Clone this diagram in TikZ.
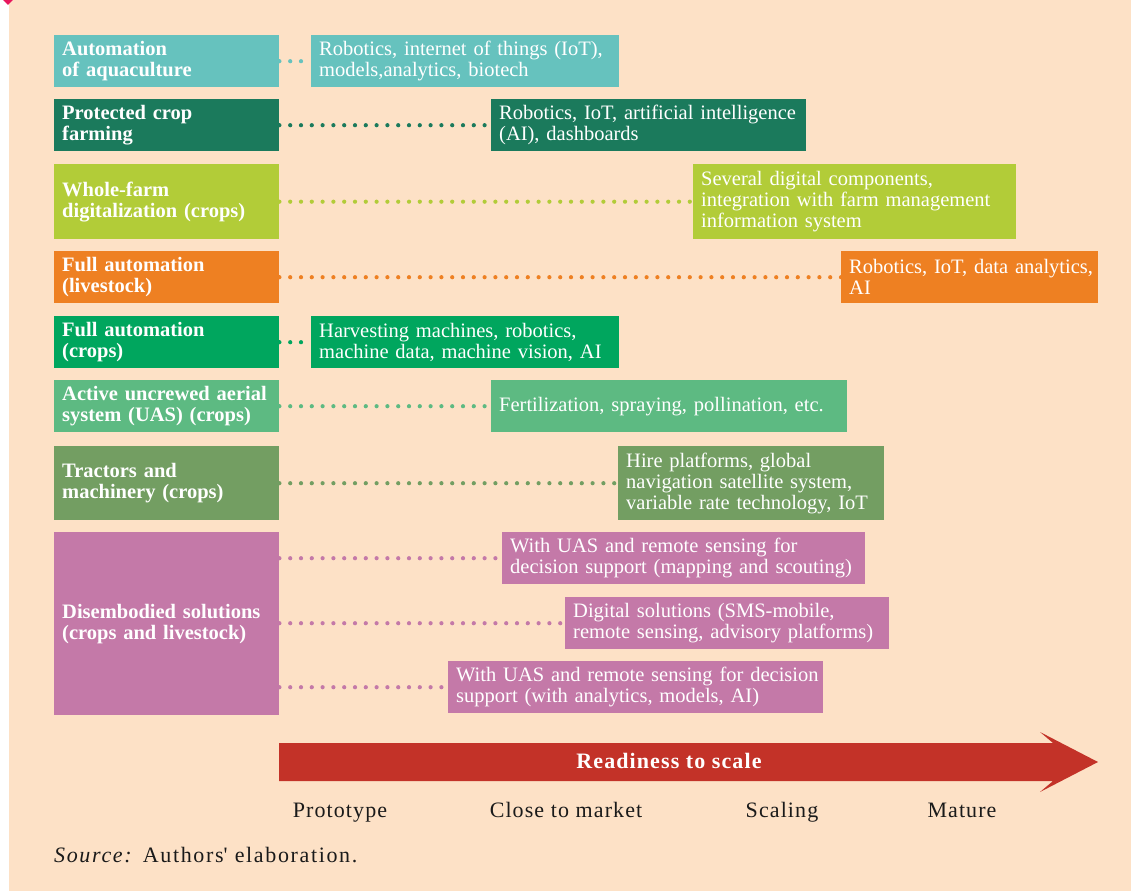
\documentclass[tikz,border=0pt]{standalone}
\usepackage{fontspec}
\setmainfont{Liberation Serif}
\newfontfamily\spacedfont[LetterSpace=5]{Liberation Serif}
\newfontfamily\sourcefont[LetterSpace=7.5]{Liberation Serif}
\definecolor{panel}{HTML}{FDE1C6}
\definecolor{markpink}{HTML}{E8175D}
\definecolor{aqua}{HTML}{66C2BE}
\definecolor{deepgreen}{HTML}{1B7A5C}
\definecolor{lime}{HTML}{B2CC38}
\definecolor{orange}{HTML}{EE8022}
\definecolor{brightgreen}{HTML}{00A65E}
\definecolor{midgreen}{HTML}{5DBA82}
\definecolor{olive}{HTML}{739E62}
\definecolor{mauve}{HTML}{C479A8}
\definecolor{arrowred}{HTML}{C33228}
\definecolor{ink}{HTML}{1A1A1A}
\begin{document}
\begin{tikzpicture}[x=1pt,y=-1pt,
  boxtext/.style={rectangle,anchor=north west,inner xsep=8pt,inner ysep=0pt,text=white,align=left,
    execute at begin node={\rightskip=0pt plus 1fil minus 80pt\hyphenpenalty=10000\relax}},
  stage/.style={boxtext,text width=209pt,font=\fontsize{20.5}{21}\selectfont\bfseries},
  tech/.style={boxtext,font=\fontsize{20.5}{21}\selectfont},
  dots/.style={line width=4.2pt,line cap=round,dash pattern=on 0pt off 10.8pt},
  level/.style={anchor=base,text=ink,font=\spacedfont\fontsize{22}{22}\selectfont}]
\useasboundingbox (0,0) rectangle (1131,891);
% Panel
\fill[white] (0,0) rectangle (1131,891);
\fill[panel] (9,0) rectangle (1131,891);
\fill[markpink] (1,-2) -- (8,5) -- (15,-2) -- (8,-9) -- cycle;
% Row 1
\path (54,35) node(l1)[stage,fill=aqua,minimum height=52pt] {Automation\\of aquaculture};
\path (311,35) node(r1)[tech,fill=aqua,minimum height=52pt,text width=292pt] {Robotics, internet of things (IoT),\\models,analytics, biotech};
\draw[dots,aqua] (l1.east) -- (r1.west);
% Row 2
\path (54,99) node(l2)[stage,fill=deepgreen,minimum height=52pt] {Protected crop\\farming};
\path (491,99) node(r2)[tech,fill=deepgreen,minimum height=52pt,text width=299pt] {Robotics, IoT, artificial intelligence\\(AI), dashboards};
\draw[dots,deepgreen] (l2.east) -- (r2.west);
% Row 3
\path (54,164) node(l3)[stage,fill=lime,minimum height=75pt] {Whole-farm\\digitalization (crops)};
\path (693,164) node(r3)[tech,fill=lime,minimum height=75pt,text width=307pt] {Several digital components,\\integration with farm management\\information system};
\draw[dots,lime] (l3.east) -- (r3.west);
% Row 4
\path (54,251) node(l4)[stage,fill=orange,minimum height=52pt] {Full automation\\(livestock)};
\path (841,251) node(r4)[tech,fill=orange,minimum height=52pt,text width=241pt] {Robotics, IoT, data analytics,\\AI};
\draw[dots,orange] (l4.east) -- (r4.west);
% Row 5
\path (54,316) node(l5)[stage,fill=brightgreen,minimum height=52pt] {Full automation\\(crops)};
\path (311,316) node(r5)[tech,fill=brightgreen,minimum height=52pt,text width=292pt] {Harvesting machines, robotics,\\machine data, machine vision, AI};
\draw[dots,brightgreen] (l5.east) -- (r5.west);
% Row 6
\path (54,380) node(l6)[stage,fill=midgreen,minimum height=52pt] {Active uncrewed aerial\\system (UAS) (crops)};
\path (491,380) node(r6)[tech,fill=midgreen,minimum height=52pt,text width=340pt] {Fertilization, spraying, pollination, etc.};
\draw[dots,midgreen] (l6.east) -- (r6.west);
% Row 7
\path (54,446) node(l7)[stage,fill=olive,minimum height=74pt] {Tractors and\\machinery (crops)};
\path (618,446) node(r7)[tech,fill=olive,minimum height=74pt,text width=250pt] {Hire platforms, global\\navigation satellite system,\\variable rate technology, IoT};
\draw[dots,olive] (l7.east) -- (r7.west);
% Row 8
\path (54,532) node(l8)[stage,fill=mauve,minimum height=183pt] {Disembodied solutions\\(crops and livestock)};
\path (502,532) node(r8a)[tech,fill=mauve,minimum height=52pt,text width=347pt] {With UAS and remote sensing for\\decision support (mapping and scouting)};
\path (565,597) node(r8b)[tech,fill=mauve,minimum height=52pt,text width=308pt] {Digital solutions (SMS-mobile,\\remote sensing, advisory platforms)};
\path (448,661) node(r8c)[tech,fill=mauve,minimum height=52pt,text width=359pt] {With UAS and remote sensing for decision\\support (with analytics, models, AI)};
\draw[dots,mauve] (l8.east |- r8a.west) -- (r8a.west);
\draw[dots,mauve] (l8.east |- r8b.west) -- (r8b.west);
\draw[dots,mauve] (l8.east |- r8c.west) -- (r8c.west);
% Readiness arrow
\fill[arrowred] (279,743) -- (1053,743) -- (1040,732) -- (1098,762) -- (1040,792) -- (1053,781) -- (279,781) -- cycle;
\path (669,768) node(readiness)[anchor=base,text=white,font=\spacedfont\fontsize{22}{22}\selectfont\bfseries] {Readiness to scale};
\path (340,817) node(p1)[level] {Prototype};
\path (566,817) node(p2)[level] {Close to market};
\path (782,817) node(p3)[level] {Scaling};
\path (962,817) node(p4)[level] {Mature};
% Source
\path (54,862) node(src)[level,anchor=base west,inner xsep=0pt,font=\sourcefont\fontsize{22}{22}\selectfont] {\textit{Source:} Authors\textquotesingle{} elaboration.};
\end{tikzpicture}
\end{document}
